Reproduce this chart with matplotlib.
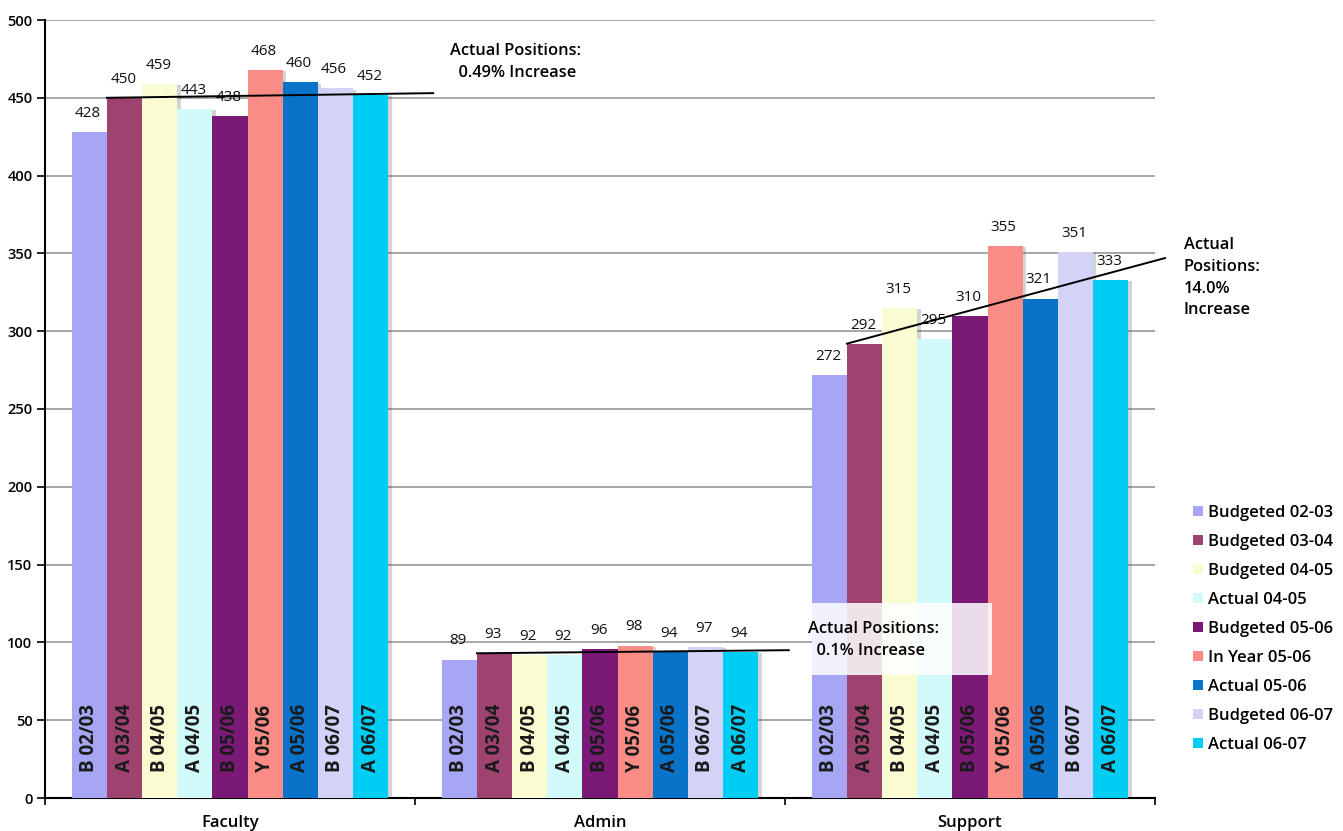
import matplotlib
matplotlib.use("Agg")
import matplotlib.pyplot as plt
import matplotlib.patheffects as pe
from matplotlib.patches import Rectangle, Patch
import numpy as np

categories = ["Faculty", "Admin", "Support"]
series_names = ["Budgeted 02-03", "Budgeted 03-04", "Budgeted 04-05", "Actual 04-05",
                "Budgeted 05-06", "In Year 05-06", "Actual 05-06", "Budgeted 06-07", "Actual 06-07"]
bar_labels = ["B 02/03", "A 03/04", "B 04/05", "A 04/05", "B 05/06", "Y 05/06", "A 05/06", "B 06/07", "A 06/07"]
faculty = [428, 450, 459, 443, 438, 468, 460, 456, 452]
admin = [89, 93, 92, 92, 96, 98, 94, 97, 94]
support = [272, 292, 315, 295, 310, 355, 321, 351, 333]
values = [faculty, admin, support]
colors = ["#a6a6f4", "#9e4270", "#fbfbd2", "#d2fafa", "#7a1a76", "#f98d86", "#0873c8", "#d3d3f7", "#00cdf4"]

# trend line end values (estimated)
trend_end = [453, 95, 347]
notes = ["Actual Positions:\n  0.49% Increase", "Actual Positions:\n  0.1% Increase",
         "Actual\nPositions:\n14.0%\nIncrease"]

plt.rcParams['font.family'] = ['Open Sans', 'DejaVu Sans']

fig = plt.figure(figsize=(13.43, 8.31), dpi=100)
ax = fig.add_axes([45/1343, 1-798/831, 1110/1343, 778/831])

n = len(series_names)
group = 0.855
w = group / n
x = np.arange(len(categories))
for i in range(n):
    xs = x - group/2 + w*(i+0.5)
    vals = [v[i] for v in values]
    ax.bar(xs, vals, width=w, color=colors[i], zorder=3,
           path_effects=[pe.SimplePatchShadow(offset=(2.5, -1), alpha=0.25, shadow_rgbFace="#555555"), pe.Normal()])
    for xx, vv in zip(xs, vals):
        ax.annotate(str(vv), (xx, vv), xytext=(-1, 8), textcoords="offset points",
                    ha="center", va="bottom", fontsize=11, zorder=6, color="#111111",
                    fontweight="medium")
        ax.text(xx, 16.5, bar_labels[i], rotation=90, ha="center", va="bottom",
                fontsize=13.5, fontweight="bold", color="#1a1a1a", zorder=5)

# trend lines from second bar's left edge
trend_dx = [0.549, 0.51, 0.527]
for c in range(len(categories)):
    x0 = x[c] - group/2 + w
    y0 = values[c][1]
    x1 = x[c] + trend_dx[c]
    ax.plot([x0, x1], [y0, trend_end[c]], color="black", lw=1.4, zorder=7, clip_on=False)

nfs = 11.8
ls = 1.48
ax.text(0.595, 485, notes[0], fontsize=nfs, fontweight="semibold", va="top", ha="left", zorder=8, linespacing=ls)
ax.add_patch(Rectangle((1.573, 79), 0.486, 46.3, facecolor="white", edgecolor="none", alpha=0.85, zorder=7.5))
ax.text(1.562, 113.5, notes[1], fontsize=nfs, fontweight="semibold", va="top", ha="left", zorder=8, linespacing=ls)
ax.text(2.578, 360.5, notes[2], fontsize=nfs, fontweight="semibold", va="top", ha="left", zorder=8, linespacing=ls,
        clip_on=False)

ax.set_xlim(-0.5, 2.5)
ax.set_ylim(0, 500)
ax.set_yticks(np.arange(0, 501, 50))
ax.tick_params(axis="y", labelsize=10.5, length=6, width=1.2, direction="out", pad=3)
for t in ax.get_yticklabels():
    t.set_fontweight("semibold")
ax.grid(axis="y", color="#a0a0a0", lw=1.3, zorder=0)
ax.set_xticks(x)
ax.set_xticklabels(categories, fontsize=12, fontweight="semibold")
ax.set_xticks([-0.5, 0.5, 1.5, 2.5], minor=True)
ax.tick_params(axis="x", which="major", length=0, pad=12)
ax.tick_params(axis="x", which="minor", length=5, width=1.2)
for s in ["top", "right"]:
    ax.spines[s].set_visible(False)
ax.spines["left"].set_linewidth(1.5)
ax.spines["bottom"].set_linewidth(1.5)
ax.set_axisbelow(True)

handles = [Patch(facecolor=c, edgecolor="none") for c in colors]
fig.legend(handles=handles, labels=series_names, loc="upper left", bbox_to_anchor=(1178/1343, 1-490/831),
           frameon=False, handlelength=0.6, handleheight=0.6, handletextpad=0.3,
           labelspacing=0.78, prop={"weight": "semibold", "size": 12})

fig.savefig("out.png", dpi=100)
